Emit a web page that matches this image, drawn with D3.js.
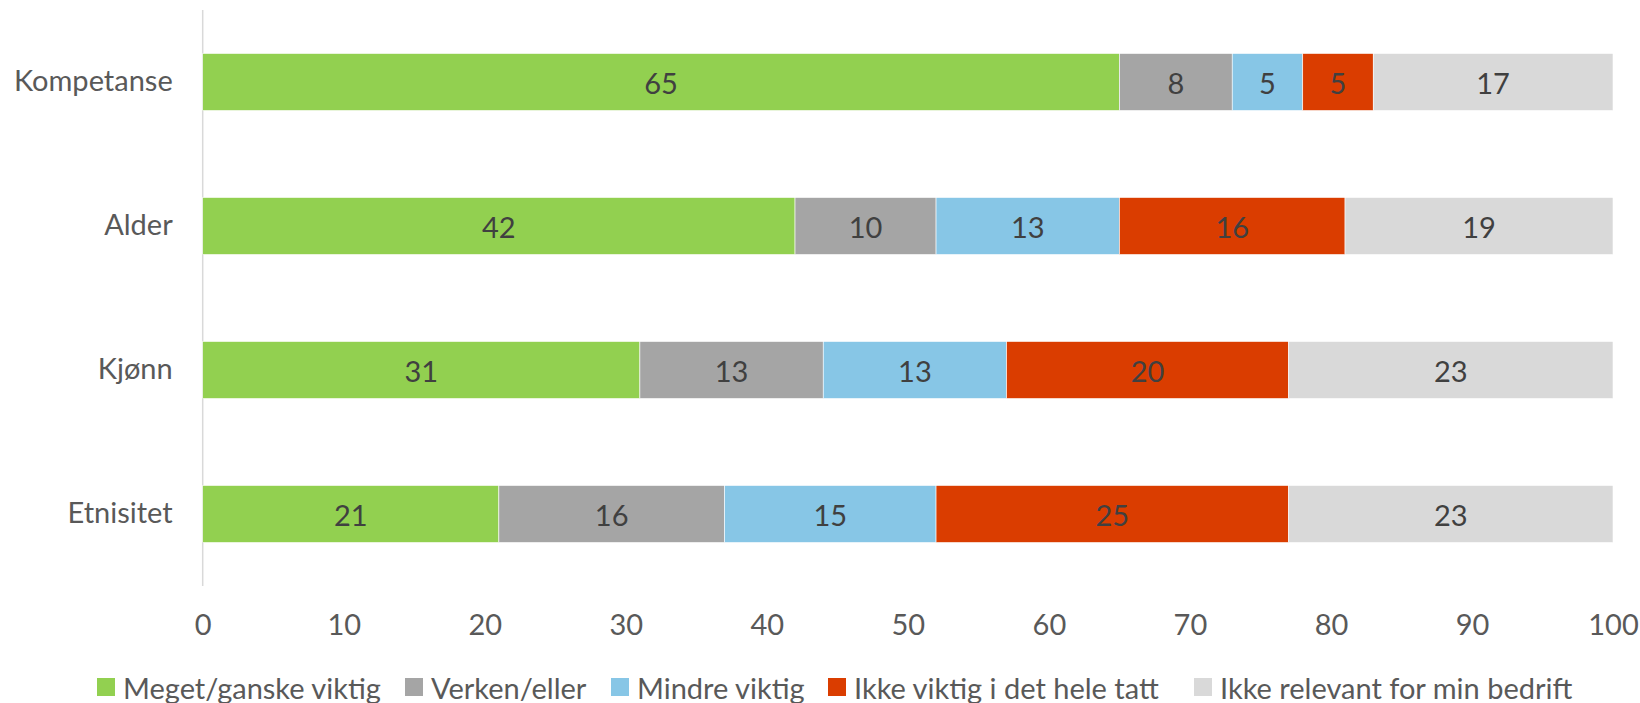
<!DOCTYPE html>
<html><head><meta charset="utf-8">
<script src="https://cdn.jsdelivr.net/npm/d3@7"></script>
<style>body{margin:0;background:#fff}svg{display:block}text{font-family:Lato,"Liberation Sans",sans-serif}</style>
</head><body><svg id="c" width="1640" height="703"></svg>
<script>
const categories = ["Kompetanse","Alder","Kjønn","Etnisitet"];
const seriesNames = ["Meget/ganske viktig","Verken/eller","Mindre viktig","Ikke viktig i det hele tatt","Ikke relevant for min bedrift"];
const meget = [65,42,31,21];
const verken = [8,10,13,16];
const mindre = [5,13,13,15];
const ikkeViktig = [5,16,20,25];
const ikkeRelevant = [17,19,23,23];
const xTicks = [0,10,20,30,40,50,60,70,80,90,100];
const colors = ["#92D050","#A5A5A5","#87C6E6","#DA3D00","#D9D9D9"];

const seriesVals = [meget,verken,mindre,ikkeViktig,ikkeRelevant];
const rows = categories.map((c,i)=>{const o={cat:c}; seriesNames.forEach((s,j)=>o[s]=seriesVals[j][i]); return o;});
const stack = d3.stack().keys(seriesNames)(rows);

const svg = d3.select("#c");
const fs = 29;
const x = d3.scaleLinear().domain([0,100]).range([202.7,1613]);
const y = d3.scaleBand().domain(categories).range([10,586]).paddingInner(0.604).paddingOuter(0.302);

svg.append("line").attr("x1",x(0)).attr("x2",x(0)).attr("y1",10).attr("y2",586)
  .attr("stroke","#D9D9D9").attr("stroke-width",1.5);

const g = svg.append("g");
stack.forEach((s,j)=>{
  const gg = g.append("g").attr("fill",colors[j]);
  gg.selectAll("rect").data(s).join("rect")
    .attr("x",d=>x(d[0])).attr("width",d=>x(d[1])-x(d[0]))
    .attr("y",d=>y(d.data.cat)).attr("height",y.bandwidth())
    .attr("stroke","#fff").attr("stroke-width",0.6);
  gg.selectAll("text").data(s).join("text")
    .attr("x",d=>(x(d[0])+x(d[1]))/2).attr("y",d=>y(d.data.cat)+y.bandwidth()/2)
    .attr("text-anchor","middle").attr("dominant-baseline","central")
    .attr("fill","#404040").attr("font-size",fs)
    .text(d=>d[1]-d[0]);
});

// y axis labels
const ya = svg.append("g").attr("transform",`translate(${x(0)},0)`)
  .call(d3.axisLeft(y).tickSize(0).tickPadding(30));
ya.select(".domain").remove();
ya.selectAll("text").attr("font-size",fs).attr("fill","#595959").attr("font-family","Lato,'Liberation Sans',sans-serif");

// x axis
const xa = svg.append("g").attr("transform","translate(0,586)")
  .call(d3.axisBottom(x).tickValues(xTicks).tickSize(0).tickPadding(28));
xa.select(".domain").remove();
xa.selectAll("text").attr("font-size",fs).attr("fill","#595959").attr("font-family","Lato,'Liberation Sans',sans-serif");

// legend
const legX = [97,405,611,828,1194];
const leg = svg.append("g");
const ly = 687;
seriesNames.forEach((s,j)=>{
  leg.append("rect").attr("x",legX[j]).attr("y",ly-9).attr("width",18).attr("height",18).attr("fill",colors[j]);
  leg.append("text").attr("x",legX[j]+26).attr("y",ly).attr("dominant-baseline","central")
    .attr("font-size",fs).attr("fill","#595959").text(s);
});
</script></body></html>
